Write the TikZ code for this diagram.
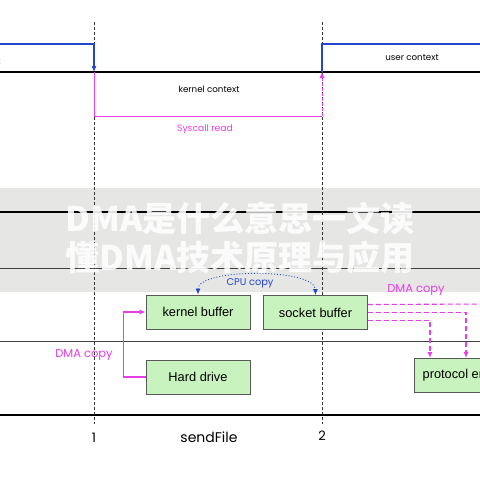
\documentclass[tikz,border=0pt]{standalone}
\usepackage{fontspec}
\setmainfont{Poppins}
\setsansfont{Liberation Sans}
\newfontfamily\cjk{Noto Sans CJK SC}
\usetikzlibrary{arrows.meta}

\definecolor{ctxblue}{RGB}{35,70,205}
\definecolor{dmapink}{RGB}{232,62,232}
\definecolor{bufgreen}{RGB}{200,242,190}
\definecolor{bandgray}{RGB}{230,230,228}

\tikzset{
  timeline/.style={line width=1.7pt},
  sepline/.style={line width=0.8pt, black!75},
  marker/.style={dashed, dash pattern=on 3pt off 2pt, line width=0.6pt, black!80},
  ctx/.style={draw=ctxblue, line width=1.1pt},
  sys/.style={draw=dmapink, line width=1pt},
  dmaline/.style={draw=dmapink, line width=1.1pt},
  dmadash/.style={draw=dmapink, line width=1.1pt, dash pattern=on 5pt off 3pt},
  cpuline/.style={draw=ctxblue, line width=0.9pt, dotted},
  buf/.style={draw=black!65, fill=bufgreen, line width=0.8pt, minimum width=104pt,
    minimum height=34pt, font=\sffamily\fontsize{12.8}{12.8}\selectfont},
  lbl/.style={font=\fontsize{8.7}{9}\selectfont},
  pinklbl/.style={text=dmapink, font=\fontsize{11.5}{12}\selectfont},
  watermark/.style={text=white, text opacity=0.88, font=\cjk\bfseries\fontsize{34}{34}\selectfont}
}

\begin{document}
\begin{tikzpicture}[x=1pt,y=-1pt]
\useasboundingbox (0,0) rectangle (480,480);
\clip (0,0) rectangle (480,480);
\fill[white] (0,0) rectangle (480,480);

% watermark band
\fill[bandgray] (0,188) rectangle (480,292);

% timelines
\draw[timeline] (0,72) -- (480,72);
\draw[timeline] (0,212) -- (480,212);
\draw[sepline] (0,268) -- (480,268);
\draw[sepline] (0,341) -- (480,341);
\draw[timeline] (0,415) -- (480,415);

% markers 1 and 2
\coordinate (m1top) at (94,22);
\coordinate (m1bot) at (94,424);
\coordinate (m2top) at (322,22);
\coordinate (m2bot) at (322,424);
\draw[marker] (m1top) -- (m1bot);
\draw[marker] (m2top) -- (m2bot);
\node[font=\fontsize{13}{13}\selectfont] (one) at (94,438) {1};
\node[font=\fontsize{13}{13}\selectfont] (two) at (322,436) {2};
\node[font=\fontsize{14}{14}\selectfont] (sendfile) at (209,437) {sendFile};

% contexts
\node[lbl, anchor=east] (uctxl) at (4,62) {user context};
\node[lbl] (uctxr) at (412,58) {user context};
\node[lbl] (kctx) at (209,89) {kernel context};
\node[lbl, anchor=east] (uctxb) at (2,313) {user context};

\coordinate (ul) at (-5,44);
\coordinate (ucall) at (94,44);
\coordinate (kin) at (94,72);
\coordinate (kout) at (322,72);
\coordinate (uret) at (322,44);
\coordinate (ur) at (485,44);
\draw[ctx, -{Latex[length=6pt,width=5pt]}] (ul) -- (ucall) -- (kin);
\draw[ctx] (kout) -- (uret) -- (ur);

% syscall read
\coordinate (sysl) at (94,116);
\coordinate (sysr) at (322,116);
\draw[sys] (kin) -- (sysl) -- (sysr);
\draw[sys, dash pattern=on 3pt off 2pt, -{Latex[length=6pt,width=5pt]}] (sysr) -- (kout);
\node[lbl, text=dmapink, font=\fontsize{9.2}{9.5}\selectfont] (sysread) at (205,129) {Syscall read};

% buffers
\node[buf] (kbuf) at (198,312) {kernel buffer};
\node[buf] (sbuf) at (315.5,312.5) {socket buffer};
\node[buf] (hd) at (198,377) {Hard drive};
\node[buf, anchor=north west] (proto) at (414,358) {protocol engine};

% DMA copy into kernel buffer
\draw[dmaline, -{Latex[length=6pt,width=5pt]}] (hd.west) -- ++(-22,0) |- (kbuf.west);
\node[pinklbl] (dmal) at (84,355) {DMA copy};

% CPU copy
\draw[cpuline, {Latex[length=6pt,width=5pt]}-{Latex[length=6pt,width=5pt]}]
  (kbuf.north) .. controls (198,268) and (315,268) .. (sbuf.north);
\node[text=ctxblue, font=\fontsize{9.8}{10}\selectfont] (cpu) at (250,283) {CPU copy};

% DMA copy to protocol engine
\coordinate (dmaout) at (490,304);
\draw[dmadash] ([yshift=8pt]sbuf.east) -- (dmaout);
\draw[dmadash, -{Latex[length=6pt,width=5pt]}] (sbuf.east) -| ([xshift=52pt]proto.north west);
\draw[dmadash, -{Latex[length=6pt,width=5pt]}] ([yshift=-8pt]sbuf.east) -| ([xshift=16pt]proto.north west);
\node[pinklbl] (dmar) at (416,290) {DMA copy};

% watermark text
\node[watermark] (wm1) at (240,218) {DMA是什么意思一文读};
\node[watermark] (wm2) at (240,258) {懂DMA技术原理与应用};
\end{tikzpicture}
\end{document}
